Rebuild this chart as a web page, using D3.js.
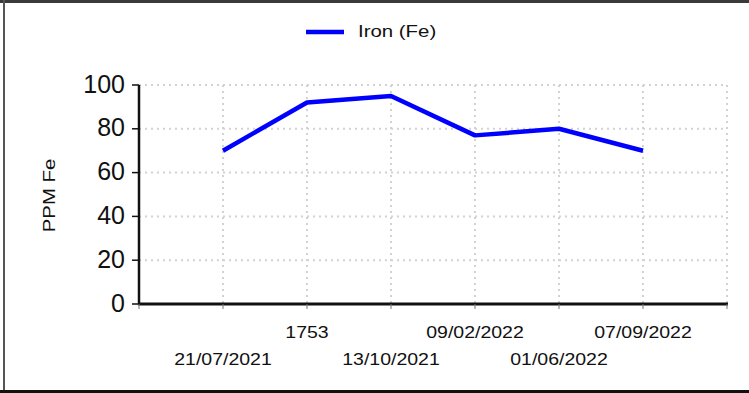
<!DOCTYPE html>
<html>
<head>
<meta charset="utf-8">
<script src="https://cdn.jsdelivr.net/npm/d3@7"></script>
<style>
  html, body { margin: 0; padding: 0; background: #fff; }
  svg { display: block; font-family: "Liberation Sans", Arial, sans-serif; }
</style>
</head>
<body>
<svg id="chart" width="749" height="393"></svg>
<script>
// Sample labels along the x axis and the iron readings (ppm)
const sampleLabels = ["21/07/2021", "1753", "13/10/2021", "09/02/2022", "01/06/2022", "07/09/2022"];
const ironValues = [70, 92, 95, 77, 80, 70];
const yTicks = [0, 20, 40, 60, 80, 100];
const seriesName = "Iron (Fe)";
const yTitle = "PPM Fe";

const svg = d3.select("#chart");

// Plot frame
const plotLeft = 139, plotRight = 727, plotTop = 85, plotBottom = 304;

const x = d3.scalePoint().domain(sampleLabels).range([plotLeft, plotRight]).padding(1);
const y = d3.scaleLinear().domain([0, 100]).range([plotBottom, plotTop]);
const step = x.step();
const slots = d3.range(0, sampleLabels.length + 2);  // category boundaries 0..n+1
const slotX = k => plotLeft + k * step;

// Outer border (top, left, bottom edges)
svg.append("rect").attr("x", 0).attr("y", 0).attr("width", 749).attr("height", 3).attr("fill", "#3a3a3a");
svg.append("rect").attr("x", 3).attr("y", 0).attr("width", 2).attr("height", 393).attr("fill", "#555");
svg.append("rect").attr("x", 0).attr("y", 390).attr("width", 749).attr("height", 3).attr("fill", "#111");

// Dotted grid
const grid = svg.append("g").attr("stroke", "#d2d2d2").attr("stroke-width", 2).attr("stroke-dasharray", "2,4");
grid.selectAll("line.h").data(yTicks.filter(d => d > 0)).join("line")
  .attr("class", "h")
  .attr("x1", plotLeft).attr("x2", plotRight)
  .attr("y1", d => y(d)).attr("y2", d => y(d));
grid.selectAll("line.v").data(slots.slice(1)).join("line")
  .attr("class", "v")
  .attr("x1", d => slotX(d)).attr("x2", d => slotX(d))
  .attr("y1", plotTop).attr("y2", plotBottom);

// Y axis
const yAxis = svg.append("g");
yAxis.append("line").attr("x1", plotLeft).attr("x2", plotLeft).attr("y1", plotTop).attr("y2", plotBottom + 1)
  .attr("stroke", "#111").attr("stroke-width", 2.5);
yAxis.selectAll("line.tick").data(yTicks).join("line")
  .attr("class", "tick")
  .attr("x1", plotLeft - 7).attr("x2", plotLeft)
  .attr("y1", d => y(d)).attr("y2", d => y(d))
  .attr("stroke", "#111").attr("stroke-width", 1.5);
yAxis.selectAll("text").data(yTicks).join("text")
  .attr("x", 125).attr("y", d => y(d) + 7.5)
  .attr("text-anchor", "end")
  .attr("font-size", 25)
  .attr("fill", "#111")
  .text(d => d);

// Y axis title
svg.append("text")
  .attr("transform", `translate(55,${(plotTop + plotBottom) / 2 + 1}) rotate(-90) scale(1.2,1)`)
  .attr("text-anchor", "middle")
  .attr("font-size", 17)
  .attr("fill", "#111")
  .text(yTitle);

// X axis
const xAxis = svg.append("g");
xAxis.append("line").attr("x1", plotLeft - 1).attr("x2", plotRight + 1).attr("y1", plotBottom).attr("y2", plotBottom)
  .attr("stroke", "#111").attr("stroke-width", 3);
xAxis.selectAll("line.tick").data(slots).join("line")
  .attr("class", "tick")
  .attr("x1", d => slotX(d)).attr("x2", d => slotX(d))
  .attr("y1", plotBottom).attr("y2", plotBottom + 5)
  .attr("stroke", "#777").attr("stroke-width", 1);
xAxis.selectAll("text").data(sampleLabels).join("text")
  .attr("transform", (d, i) => `translate(${x(d)},${i % 2 === 0 ? 365 : 338}) scale(1.22,1)`)
  .attr("text-anchor", "middle")
  .attr("font-size", 16)
  .attr("fill", "#111")
  .text(d => d);

// Series line
const line = d3.line().x((d, i) => x(sampleLabels[i])).y(d => y(d));
svg.append("path")
  .datum(ironValues)
  .attr("d", line)
  .attr("fill", "none")
  .attr("stroke", "#0000ff")
  .attr("stroke-width", 4.5)
  .attr("stroke-linejoin", "round");

// Legend
const legend = svg.append("g");
legend.append("line").attr("x1", 306).attr("x2", 344).attr("y1", 32).attr("y2", 32)
  .attr("stroke", "#0000ff").attr("stroke-width", 4.5);
legend.append("text")
  .attr("transform", "translate(358,36.5) scale(1.2,1)")
  .attr("font-size", 17)
  .attr("fill", "#111")
  .text(seriesName);
</script>
</body>
</html>
